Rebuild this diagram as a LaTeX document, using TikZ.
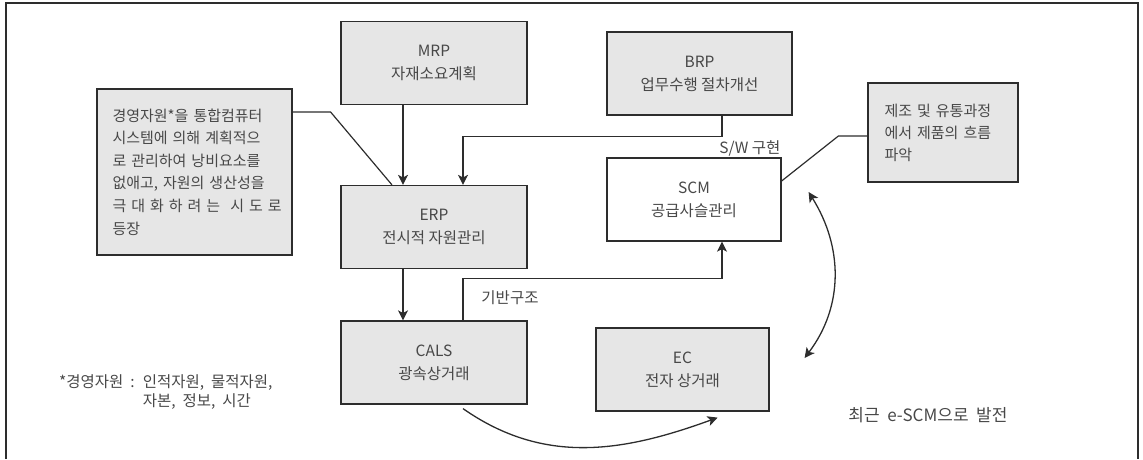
\documentclass[tikz,border=0pt]{standalone}
\usepackage{fontspec}
\setmainfont{Noto Sans CJK KR}
\usetikzlibrary{arrows.meta}

\definecolor{boxfill}{RGB}{230,230,230}
\definecolor{ink}{RGB}{45,45,45}
\definecolor{txt}{RGB}{72,72,72}
\newcommand{\jl}[1]{\makebox[\hsize][s]{#1}}

\tikzset{
  box/.style={draw=ink,line width=1.2pt,fill=boxfill,align=center,text=txt,
    minimum width=186pt,minimum height=83pt,inner sep=0pt},
  note/.style={draw=ink,line width=1.2pt,fill=boxfill,align=left,text=txt,inner sep=0pt},
  lbl/.style={text=txt,inner sep=1pt},
  arr/.style={->,draw=ink,line width=1.3pt},
}

\begin{document}
\begin{tikzpicture}[x=1pt,y=-1pt,>={Stealth[length=10pt,width=10pt,inset=2.5pt]},
  font=\fontsize{15.5}{23}\selectfont]
\useasboundingbox (0,0) rectangle (1143,459);
\draw[ink,line width=1.3pt] (6,459) -- (6,3) -- (1138,3) -- (1138,459);

% left column
\node[box] (mrp) at (434,63) {MRP\\자재소요계획};
\node[box] (erp) at (434,227) {ERP\\전시적 자원관리};
\node[box] (cals) at (434,362.5) {CALS\\광속상거래};

% right column
\node[box,minimum width=185pt] (brp) at (699.5,73.5) {BRP\\업무수행 절차개선};
\node[box,fill=white,minimum width=174pt] (scm) at (694,199.5) {SCM\\공급사슬관리};
\node[box,minimum width=173pt] (ec) at (682.5,369.5) {EC\\전자 상거래};

% notes
\node[note,text width=164pt,minimum width=195pt,minimum height=166pt,
  font=\fontsize{15}{22.6}\selectfont] (lnote) at (194.5,172)
  {\jl{경영자원*을 통합컴퓨터}\\\jl{시스템에 의해 계획적으}\\\jl{로 관리하여 낭비요소를}\\
   \jl{없애고, 자원의 생산성을}\\\jl{극 대 화 하 려 는 \ 시 도 로}\\등장};
\node[note,text width=117pt,minimum width=150pt,minimum height=99pt,
  font=\fontsize{15}{22}\selectfont] (rnote) at (943,132.5)
  {\jl{제조 및 유통과정}\\\jl{에서 제품의 흐름}\\파악};

\draw[ink,line width=1.2pt] ([yshift=60pt]lnote.east) -- ++(38,0) -- ([xshift=-42pt]erp.north);
\draw[ink,line width=1.2pt] ([yshift=-3.5pt]rnote.west) -- ++(-29,0) -- ([yshift=18.5pt]scm.east);

% flows
\draw[arr] ([xshift=-31pt]mrp.south) -- ([xshift=-31pt]erp.north);
\draw[arr] ([xshift=-31pt]erp.south) -- ([xshift=-31pt]cals.north);
\draw[arr] ([xshift=22.5pt]brp.south) -- ++(0,21) -| ([xshift=29pt]erp.north);
\draw[arr] ([xshift=29pt]cals.north) -- ++(0,-42) -| ([xshift=28pt]scm.south);
\draw[arr] ([xshift=29pt,yshift=-4pt]cals.south) to[out=-35,in=200] ([xshift=-52pt,yshift=-6pt]ec.south east);
\draw[arr,<->] ([xshift=27pt,yshift=7.5pt]scm.east) to[out=-58,in=53] ([xshift=35pt,yshift=11.5pt]ec.east);

% labels
\node[lbl,anchor=south east] (sw) at (scm.north east) {S/W 구현};
\node[lbl] (base) at (510,298) {기반구조};
\node[lbl,font=\fontsize{17}{20}\selectfont] (escm) at (928,415) {최근 \ e-SCM으로 \ 발전};
\node[lbl,anchor=west,align=left,font=\fontsize{15.5}{19}\selectfont] (fn) at (58,392)
  {*경영자원 \ : \ 인적자원, \ 물적자원,\\\phantom{*경영자원 \ : \ }자본, \ 정보, \ 시간};
\end{tikzpicture}
\end{document}
